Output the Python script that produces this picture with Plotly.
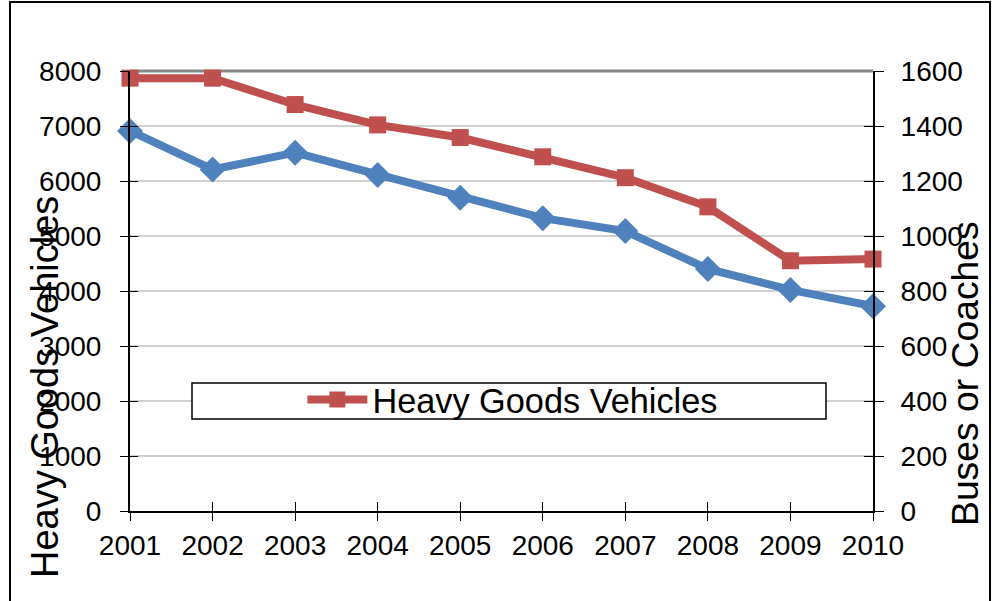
import plotly.graph_objects as go

years = [2001, 2002, 2003, 2004, 2005, 2006, 2007, 2008, 2009, 2010]
hgv = [7870, 7870, 7390, 7020, 6790, 6440, 6060, 5530, 4550, 4580]
buses = [1382, 1242, 1303, 1222, 1139, 1065, 1018, 880, 804, 745]
left_ticks = [0, 1000, 2000, 3000, 4000, 5000, 6000, 7000, 8000]
right_ticks = [0, 200, 400, 600, 800, 1000, 1200, 1400, 1600]

RED = "#C0504D"
BLUE = "#4F81BD"
FONT = "Liberation Sans, Arial, sans-serif"

fig = go.Figure()
fig.add_trace(go.Scatter(
    x=years, y=buses, name="Buses or Coaches", yaxis="y2",
    mode="lines+markers", showlegend=False, cliponaxis=False,
    line=dict(color=BLUE, width=8),
    marker=dict(symbol="diamond", size=20, color=BLUE)))
fig.add_trace(go.Scatter(
    x=years, y=hgv, name="Heavy Goods Vehicles", yaxis="y",
    mode="lines+markers", cliponaxis=False,
    line=dict(color=RED, width=8),
    marker=dict(symbol="square", size=17, color=RED)))
# invisible helper traces so the crossing-tick overlay axes render
fig.add_trace(go.Scatter(x=[years[0]], y=[0], xaxis="x2", yaxis="y3",
                         mode="markers", marker=dict(opacity=0),
                         showlegend=False, hoverinfo="skip"))
fig.add_trace(go.Scatter(x=[years[0]], y=[0], xaxis="x2", yaxis="y4",
                         mode="markers", marker=dict(opacity=0),
                         showlegend=False, hoverinfo="skip"))

tickfont = dict(family=FONT, size=28, color="black")
fig.update_layout(
    width=995, height=601,
    margin=dict(l=130, r=122, t=71, b=90),
    paper_bgcolor="white", plot_bgcolor="white",
    font=dict(family=FONT, color="black"),
    hovermode=False,
    xaxis=dict(range=[2001, 2010], tickvals=years, ticktext=[str(y) for y in years],
               showgrid=False, zeroline=False, showline=True, linecolor="black",
               linewidth=2, ticks="outside", ticklen=8, tickwidth=1,
               tickcolor="black", tickfont=tickfont),
    xaxis2=dict(overlaying="x", range=[2001, 2010], tickvals=years,
                showticklabels=False, showgrid=False, zeroline=False,
                showline=False, ticks="inside", ticklen=9, tickwidth=1,
                tickcolor="black"),
    yaxis=dict(range=[0, 8000], tickvals=left_ticks, showgrid=True,
               gridcolor="#D0D0D0", gridwidth=1.5, zeroline=False,
               showline=True, linecolor="black", linewidth=2,
               ticks="outside", ticklen=8, tickwidth=1, tickcolor="black",
               tickfont=tickfont, ticklabelstandoff=13),
    yaxis2=dict(overlaying="y", side="right", range=[0, 1600],
                tickvals=right_ticks, showgrid=False, zeroline=False,
                showline=True, linecolor="black", linewidth=2,
                ticks="outside", ticklen=9, tickwidth=1, tickcolor="black",
                tickfont=tickfont, ticklabelstandoff=11),
    yaxis3=dict(overlaying="y", range=[0, 8000], tickvals=left_ticks,
                showticklabels=False, showgrid=False, zeroline=False,
                ticks="inside", ticklen=8, tickwidth=1, tickcolor="black"),
    yaxis4=dict(overlaying="y", side="right", range=[0, 1600],
                tickvals=right_ticks, showticklabels=False, showgrid=False,
                zeroline=False, ticks="inside", ticklen=9, tickwidth=1,
                tickcolor="black"),
    legend=dict(x=0.232, y=0.253, xanchor="left", yanchor="middle",
                bgcolor="rgba(0,0,0,0)", borderwidth=0, itemwidth=60,
                font=dict(family=FONT, size=34.3, color="black")),
    shapes=[
        # outer chart border
        dict(type="rect", xref="paper", yref="paper",
             x0=-0.1615, x1=1.1575, y0=-0.25, y1=1.157,
             line=dict(color="black", width=2), fillcolor="rgba(0,0,0,0)",
             layer="below"),
        # top plot-area line
        dict(type="line", xref="paper", yref="paper", x0=0, x1=1, y0=1, y1=1,
             line=dict(color="#888888", width=3), layer="below"),
        # legend box
        dict(type="rect", xref="paper", yref="paper",
             x0=(192 - 130) / 743, x1=(826 - 130) / 743,
             y0=(511 - 419) / 440, y1=(511 - 383) / 440,
             line=dict(color="black", width=1.5), fillcolor="white",
             layer="above"),
    ],
    annotations=[
        dict(text="Heavy Goods Vehicles", textangle=-90, xref="paper",
             yref="paper", x=(45 - 130) / 743, y=(511 - 387) / 440,
             xanchor="center", yanchor="middle", showarrow=False,
             font=dict(family=FONT, size=38, color="black")),
        dict(text="Buses or Coaches", textangle=-90, xref="paper",
             yref="paper", x=(965 - 130) / 743, y=(511 - 374) / 440,
             xanchor="center", yanchor="middle", showarrow=False,
             font=dict(family=FONT, size=37.3, color="black")),
    ],
)

fig.write_html("out.html", config={"displayModeBar": False},
               post_script="document.body.style.margin='0';"
                           "document.body.style.overflow='hidden';")
